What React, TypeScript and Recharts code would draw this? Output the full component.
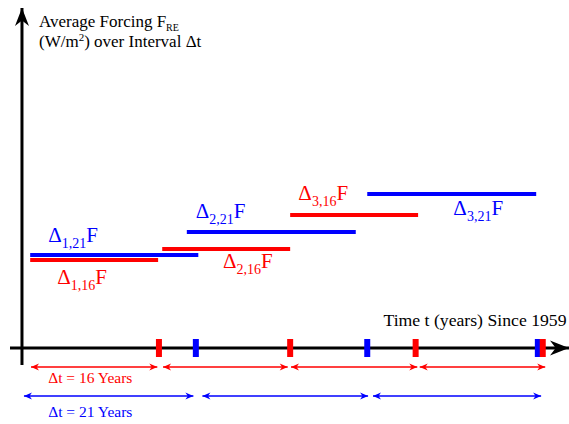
import React from "react";
import { ComposedChart, XAxis, YAxis, ReferenceLine, ReferenceDot } from "recharts";

// time in years since 1959 (schematic), forcing in W/m^2 (schematic)
const red16Start = [1.0, 17.1, 32.7];
const red16End = [16.6, 32.7, 48.3];
const red16Level = [0.88, 0.99, 1.33];
const red16Names = ["1,16", "2,16", "3,16"];
const red16LabelT = [4.3, 24.5, 33.7];
const red16LabelV = [0.64, 0.8, 1.48];

const blue21Start = [1.0, 20.1, 42.1];
const blue21End = [21.5, 40.7, 62.7];
const blue21Level = [0.93, 1.16, 1.54];
const blue21Names = ["1,21", "2,21", "3,21"];
const blue21LabelT = [3.2, 21.2, 52.6];
const blue21LabelV = [1.06, 1.3, 1.33];

const red16Ticks = [16.7, 32.7, 48.0, 63.5];
const blue21Ticks = [21.2, 42.1, 62.9];
const red16Spans = [[1.1, 16.5], [17.2, 32.4], [32.8, 48.2], [48.5, 63.8]];
const blue21Spans = [[0.24, 20.9], [22.0, 42.2], [42.8, 63.3]];

const RED = "#ff0000";
const BLUE = "#0000ff";
const FONT = "'Liberation Serif', 'Times New Roman', serif";

function head(x1: number, y1: number, x2: number, y2: number, len: number, half: number) {
  const dx = x2 - x1;
  const dy = y2 - y1;
  const d = Math.hypot(dx, dy) || 1;
  const ux = dx / d;
  const uy = dy / d;
  const nx = -uy;
  const ny = ux;
  const bx = x2 - ux * len;
  const by = y2 - uy * len;
  const mx = x2 - ux * len * 0.7;
  const my = y2 - uy * len * 0.7;
  return `${x2},${y2} ${bx + nx * half},${by + ny * half} ${mx},${my} ${bx - nx * half},${by - ny * half}`;
}

const arrowShape = (color: string, width: number, len: number, half: number, both: boolean) => (p: any) => {
  const { x1, y1, x2, y2 } = p;
  return (
    <g>
      <line x1={x1} y1={y1} x2={x2} y2={y2} stroke={color} strokeWidth={width} />
      <polygon points={head(x1, y1, x2, y2, len, half)} fill={color} />
      {both && <polygon points={head(x2, y2, x1, y1, len, half)} fill={color} />}
    </g>
  );
};

const deltaLabel = (name: string, color: string) => (p: any) => (
  <text x={p.cx} y={p.cy} fill={color} fontSize={21} fontFamily={FONT}>
    <tspan>Δ</tspan>
    <tspan fontSize={14} dy={6}>{name}</tspan>
    <tspan dy={-6}>F</tspan>
  </text>
);

const plainLabel = (lines: React.ReactNode, color: string, size: number, anchor = "start") => (p: any) => (
  <text x={p.cx} y={p.cy} fill={color} fontSize={size} fontFamily={FONT} textAnchor={anchor}>
    {lines}
  </text>
);

export default function App() {
  return (
    <div style={{ position: "absolute", left: 0, top: 0, background: "#fff" }}>
      <ComposedChart width={569} height={424} margin={{ top: 0, right: 0, bottom: 0, left: 0 }}>
        <XAxis type="number" dataKey="t" domain={[-2.68, 66.7]} allowDataOverflow hide />
        <YAxis type="number" dataKey="v" domain={[-0.76, 3.48]} allowDataOverflow hide />

        {/* axes */}
        <ReferenceLine
          segment={[{ x: -1.46, y: 0 }, { x: 66.7, y: 0 }]}
          shape={arrowShape("#000", 3, 19, 7.5, false)}
          ifOverflow="visible"
        />
        <ReferenceLine
          segment={[{ x: 0, y: -0.17 }, { x: 0, y: 3.4 }]}
          shape={arrowShape("#000", 3, 18, 7, false)}
          ifOverflow="visible"
        />

        {/* average forcing over each interval */}
        {blue21Start.map((s, i) => (
          <ReferenceLine
            key={"b" + i}
            segment={[{ x: s, y: blue21Level[i] }, { x: blue21End[i], y: blue21Level[i] }]}
            stroke={BLUE}
            strokeWidth={4}
          />
        ))}
        {red16Start.map((s, i) => (
          <ReferenceLine
            key={"r" + i}
            segment={[{ x: s, y: red16Level[i] }, { x: red16End[i], y: red16Level[i] }]}
            stroke={RED}
            strokeWidth={4}
          />
        ))}

        {/* interval marks on the time axis */}
        {blue21Ticks.map((t, i) => (
          <ReferenceLine key={"bt" + i} segment={[{ x: t, y: -0.09 }, { x: t, y: 0.09 }]} stroke={BLUE} strokeWidth={6} />
        ))}
        {red16Ticks.map((t, i) => (
          <ReferenceLine key={"rt" + i} segment={[{ x: t, y: -0.09 }, { x: t, y: 0.09 }]} stroke={RED} strokeWidth={6} />
        ))}

        {/* interval spans */}
        {red16Spans.map(([a, b], i) => (
          <ReferenceLine
            key={"rs" + i}
            segment={[{ x: a, y: -0.19 }, { x: b, y: -0.19 }]}
            shape={arrowShape(RED, 1.4, 8, 3.5, true)}
          />
        ))}
        {blue21Spans.map(([a, b], i) => (
          <ReferenceLine
            key={"bs" + i}
            segment={[{ x: a, y: -0.48 }, { x: b, y: -0.48 }]}
            shape={arrowShape(BLUE, 1.4, 8, 3.5, true)}
          />
        ))}

        {/* labels */}
        {blue21Names.map((n, i) => (
          <ReferenceDot key={"bl" + i} x={blue21LabelT[i]} y={blue21LabelV[i]} r={0} shape={deltaLabel(n, BLUE)} />
        ))}
        {red16Names.map((n, i) => (
          <ReferenceDot key={"rl" + i} x={red16LabelT[i]} y={red16LabelV[i]} r={0} shape={deltaLabel(n, RED)} />
        ))}
        <ReferenceDot
          x={2.07}
          y={3.21}
          r={0}
          shape={plainLabel(
            <>
              <tspan>Average Forcing F</tspan>
              <tspan fontSize={10} dy={4}>RE</tspan>
              <tspan x={39} dy={16}>(W/m</tspan>
              <tspan fontSize={11} dy={-6}>2</tspan>
              <tspan dy={6}>) over Interval Δt</tspan>
            </>,
            "#000",
            17
          )}
        />
        <ReferenceDot
          x={66.4}
          y={0.22}
          r={0}
          shape={plainLabel("Time t (years) Since 1959", "#000", 17.7, "end")}
        />
        <ReferenceDot x={3.2} y={-0.35} r={0} shape={plainLabel("Δt = 16 Years", RED, 15.5)} />
        <ReferenceDot x={3.2} y={-0.69} r={0} shape={plainLabel("Δt = 21 Years", BLUE, 15.5)} />
      </ComposedChart>
    </div>
  );
}
